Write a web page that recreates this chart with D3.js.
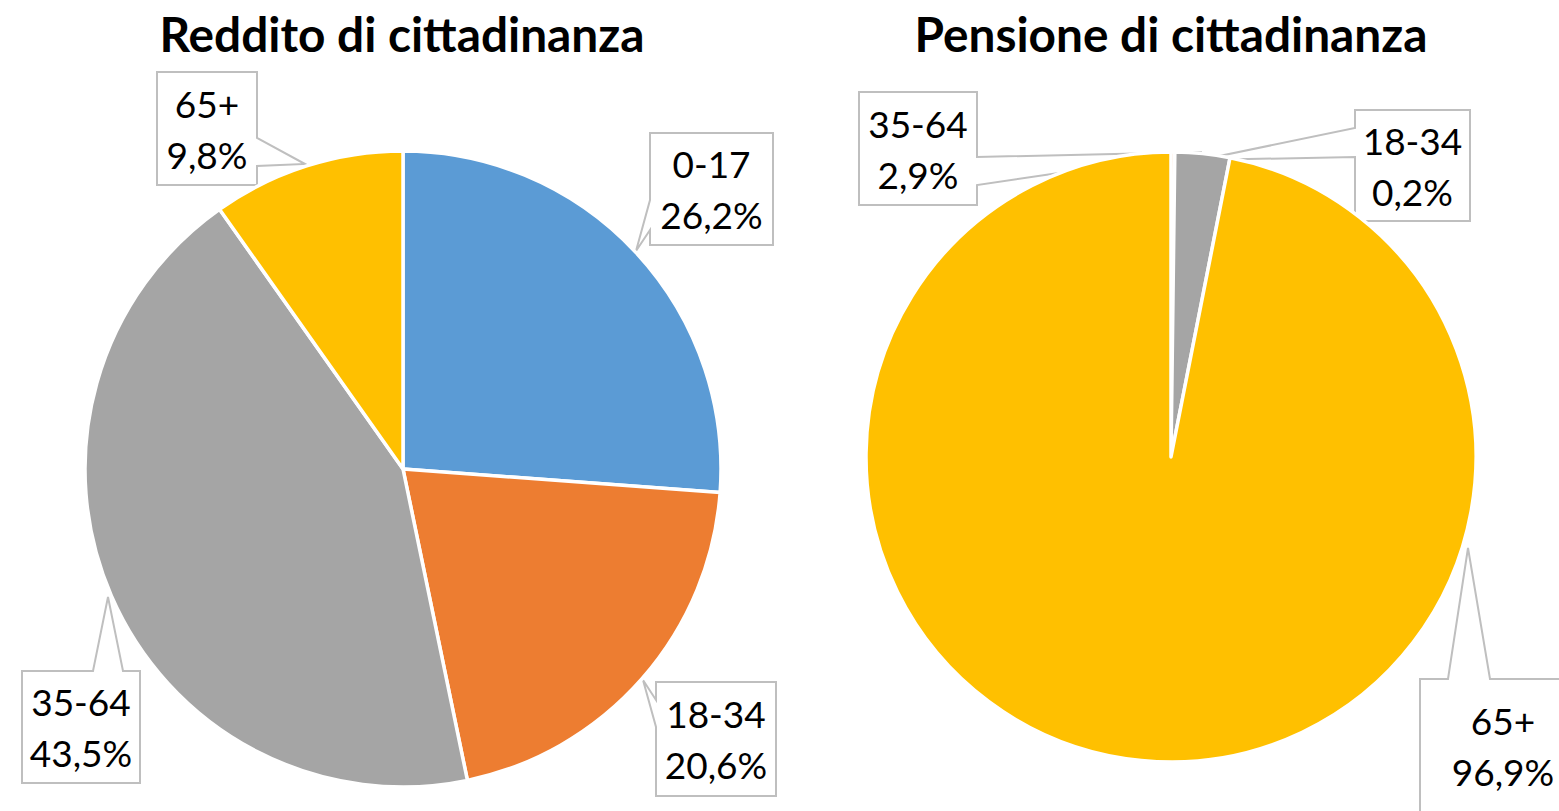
<!DOCTYPE html>
<html lang="it">
<head>
<meta charset="UTF-8">
<title>Reddito e Pensione di cittadinanza per classe di età</title>
<script src="https://d3js.org/d3.v7.min.js"></script>
<style>
    body { margin: 0; background: #fff; }
    .title { font-family: Lato, "Open Sans", sans-serif; font-weight: bold; font-size: 47px; fill: #000; }
    .lbl { font-family: Lato, "Open Sans", sans-serif; font-size: 37px; fill: #000; }
    .callout { fill: #fff; stroke: #bfbfbf; stroke-width: 2; }
    .slice { stroke: #fff; stroke-width: 3.5; stroke-linejoin: round; }
</style>
</head>
<body>
<div id="chart"></div>
<script>
// data
const ageGroups = ["0-17", "18-34", "35-64", "65+"];
const redditoShares = [26.2, 20.6, 43.5, 9.8];
const pensioneShares = [0, 0.2, 2.9, 96.9];
const chartTitles = ["Reddito di cittadinanza", "Pensione di cittadinanza"];

const colors = d3.scaleOrdinal()
    .domain(ageGroups)
    .range(["#5b9bd5", "#ed7d31", "#a5a5a5", "#ffc000"]);

const W = 1559, H = 811;
const svg = d3.select("#chart").append("svg")
    .attr("width", W)
    .attr("height", H);

const itFmt = d3.formatLocale({ decimal: ",", thousands: ".", grouping: [3], currency: ["", "€"] });
const pct = v => itFmt.format(".1f")(v) + "%";

// layout of the two pies and their callouts (box, side with pointer, base of pointer, tip)
const panels = [
    {
        title: chartTitles[0], values: redditoShares, cx: 403, cy: 469, r: 318, titleX: 402, titleW: 485,
        callouts: {
            "0-17":  { box: [650, 133, 773, 245], side: "left",  base: [200, 230], tip: [636, 251] },
            "18-34": { box: [656, 682, 776, 796], side: "left",  base: [700, 727], tip: [643, 680] },
            "35-64": { box: [22, 671, 140, 783],  side: "top",   base: [93, 123],  tip: [108, 597] },
            "65+":   { box: [157, 72, 257, 185],  side: "right", base: [138, 166], tip: [305, 164] }
        }
    },
    {
        title: chartTitles[1], values: pensioneShares, cx: 1171, cy: 457, r: 305, titleX: 1171, titleW: 513,
        callouts: {
            "18-34": { box: [1355, 110, 1470, 221], side: "left",  base: [128, 157],   tip: [1200, 160] },
            "35-64": { box: [859, 92, 977, 205],    side: "right", base: [157, 185],   tip: [1202, 152] },
            "65+":   { box: [1420, 679, 1590, 813], side: "top",   base: [1448, 1490], tip: [1468, 548] }
        }
    }
];

function calloutPath(c) {
    const [x0, y0, x1, y1] = c.box;
    const [a, b] = c.base;
    const [tx, ty] = c.tip;
    let p;
    if (c.side === "left") {
        p = [[x0, y0], [x1, y0], [x1, y1], [x0, y1], [x0, b], [tx, ty], [x0, a]];
    } else if (c.side === "right") {
        p = [[x0, y0], [x1, y0], [x1, a], [tx, ty], [x1, b], [x1, y1], [x0, y1]];
    } else {
        p = [[x0, y0], [a, y0], [tx, ty], [b, y0], [x1, y0], [x1, y1], [x0, y1]];
    }
    return "M" + p.map(d => d.join(",")).join("L") + "Z";
}

const pie = d3.pie().sort(null).value(d => d.value);

panels.forEach(panel => {
    const rows = ageGroups.map((g, i) => ({ group: g, value: panel.values[i] }));
    const arcs = pie(rows);
    const arc = d3.arc().innerRadius(0).outerRadius(panel.r);

    // callouts sit behind the pie
    const labelled = arcs.filter(d => d.data.value > 0 && panel.callouts[d.data.group]);
    const cg = svg.append("g");
    labelled.forEach(d => {
        const c = panel.callouts[d.data.group];
        cg.append("path").attr("class", "callout").attr("d", calloutPath(c));
        const mx = (c.box[0] + Math.min(c.box[2], W + 30)) / 2;
        const my = (c.box[1] + c.box[3]) / 2;
        const mxText = d.data.group === "65+" && panel === panels[1] ? 1503 : mx;
        cg.append("text").attr("class", "lbl")
            .attr("x", mxText).attr("y", my - 11)
            .attr("text-anchor", "middle")
            .text(d.data.group);
        cg.append("text").attr("class", "lbl")
            .attr("x", mxText).attr("y", my + 40)
            .attr("text-anchor", "middle")
            .text(pct(d.data.value));
    });

    const g = svg.append("g")
        .attr("transform", `translate(${panel.cx},${panel.cy})`);
    g.selectAll("path")
        .data(arcs.filter(d => d.data.value > 0))
        .join("path")
        .attr("class", "slice")
        .attr("fill", d => colors(d.data.group))
        .attr("d", arc);

    svg.append("text")
        .attr("class", "title")
        .attr("x", panel.titleX)
        .attr("y", 52)
        .attr("text-anchor", "middle")
        .attr("textLength", panel.titleW)
        .attr("lengthAdjust", "spacingAndGlyphs")
        .text(panel.title);
});
</script>
</body>
</html>
